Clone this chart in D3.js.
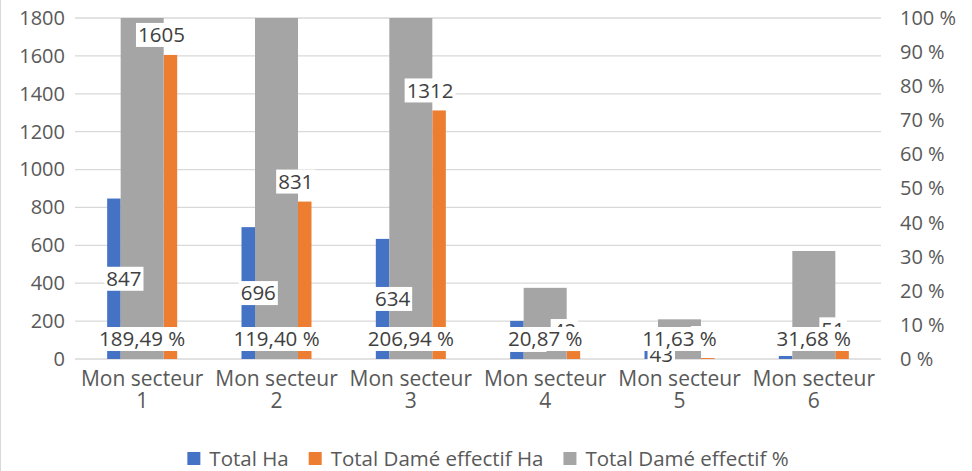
<!DOCTYPE html>
<html>
<head>
<meta charset="utf-8">
<script src="https://cdn.jsdelivr.net/npm/d3@7"></script>
<style>
  html, body { margin: 0; padding: 0; background: #fff; }
  svg { display: block; font-family: "Open Sans", sans-serif; }
</style>
</head>
<body>
<svg id="chart" width="972" height="471"></svg>
<script>
// données
const categories = ['Mon secteur 1', 'Mon secteur 2', 'Mon secteur 3', 'Mon secteur 4', 'Mon secteur 5', 'Mon secteur 6'];
const totalHa = [847, 696, 634, 201, 43, 16];
const dameHa = [1605, 831, 1312, 42, 5, 51];
const damePct = [1.8949, 1.1940, 2.0694, 0.2087, 0.1163, 0.3168];
const showHaLabel = [true, true, true, true, true, false];
const leftTicks = [0, 200, 400, 600, 800, 1000, 1200, 1400, 1600, 1800];
const rightTicks = [0, 0.1, 0.2, 0.3, 0.4, 0.5, 0.6, 0.7, 0.8, 0.9, 1];
const seriesNames = ['Total Ha', 'Total Damé effectif Ha', 'Total Damé effectif %'];

const COLORS = ['#4472C4', '#ED7D31', '#A5A5A5'];
const TEXT = '#595959';
const GRID = '#d9d9d9';
const FONT = 20;

const W = 972, H = 471;
const plot = { left: 75, right: 881, top: 18, bottom: 359 };
const BAR_W = 13.5, PCT_W = 43;

const fr = d3.formatLocale({ decimal: ',', thousands: ' ', grouping: [3], currency: ['', ' €'] });
const fmtPct = v => fr.format('.2f')(v * 100) + ' %';

const svg = d3.select('#chart');

// bordure gauche du cadre
svg.append('line')
  .attr('x1', 0.5).attr('x2', 0.5).attr('y1', 0).attr('y2', H)
  .attr('stroke', GRID);

const x = d3.scaleBand().domain(categories).range([plot.left, plot.right]).padding(0);
const y = d3.scaleLinear().domain([0, 1800]).range([plot.bottom, plot.top]);
const y2 = d3.scaleLinear().domain([0, 1]).range([plot.bottom, plot.top]).clamp(true);
const cx = c => x(c) + x.bandwidth() / 2;

// grille
svg.append('g').selectAll('line').data(leftTicks).join('line')
  .attr('x1', plot.left).attr('x2', plot.right)
  .attr('y1', d => y(d)).attr('y2', d => y(d))
  .attr('stroke', GRID).attr('stroke-width', 1.3);

// axes
const gL = svg.append('g').attr('transform', `translate(${plot.left},0)`)
  .call(d3.axisLeft(y).tickValues(leftTicks).tickSize(0).tickPadding(10).tickFormat(d3.format('d')));
const gR = svg.append('g').attr('transform', `translate(${plot.right},0)`)
  .call(d3.axisRight(y2).tickValues(rightTicks).tickSize(0).tickPadding(19)
    .tickFormat(d => Math.round(d * 100) + ' %'));
[gL, gR].forEach(g => {
  g.select('.domain').remove();
  g.selectAll('text').attr('fill', TEXT).style('font-size', FONT + 'px')
    .style('font-family', '"Open Sans", sans-serif');
});

// barres
const rows = categories.map((c, i) => ({ c, ha: totalHa[i], dame: dameHa[i], pct: damePct[i], showHa: showHaLabel[i] }));

svg.append('g').selectAll('rect').data(rows).join('rect')
  .attr('x', d => cx(d.c) - PCT_W / 2 - BAR_W)
  .attr('y', d => y(d.ha))
  .attr('width', BAR_W)
  .attr('height', d => y(0) - y(d.ha))
  .attr('fill', COLORS[0]);

svg.append('g').selectAll('rect').data(rows).join('rect')
  .attr('x', d => cx(d.c) + PCT_W / 2)
  .attr('y', d => y(d.dame))
  .attr('width', BAR_W)
  .attr('height', d => y(0) - y(d.dame))
  .attr('fill', COLORS[1]);

svg.append('g').selectAll('rect').data(rows).join('rect')
  .attr('x', d => cx(d.c) - PCT_W / 2)
  .attr('y', d => y2(d.pct))
  .attr('width', PCT_W)
  .attr('height', d => y2(0) - y2(d.pct))
  .attr('fill', COLORS[2]);

// étiquettes avec fond blanc
function label(g, tx, ty, txt) {
  const grp = g.append('g');
  const rect = grp.append('rect').attr('fill', '#fff');
  const t = grp.append('text')
    .attr('x', tx).attr('y', ty).attr('dy', '0.35em')
    .attr('text-anchor', 'middle')
    .attr('fill', '#404040')
    .style('font-size', '20.5px')
    .text(txt);
  const w = t.node().getComputedTextLength();
  rect.attr('x', tx - w / 2 - 2).attr('y', ty - 12).attr('width', w + 4).attr('height', 24);
}

const gLab = svg.append('g');
rows.forEach(d => {
  if (d.showHa) label(gLab, cx(d.c) - PCT_W / 2 - BAR_W / 2 + 10, (y(d.ha) + y(0)) / 2, d.ha);
});
rows.forEach(d => {
  label(gLab, cx(d.c) + PCT_W / 2 + BAR_W / 2 - 9, y(d.dame) - 20, d.dame);
});
rows.forEach(d => {
  label(gLab, cx(d.c), y2(0) - 20, fmtPct(d.pct));
});

// libellés des catégories
const gX = svg.append('g');
categories.forEach(c => {
  const k = c.lastIndexOf(' ');
  const t = gX.append('text')
    .attr('x', cx(c)).attr('y', 386)
    .attr('text-anchor', 'middle')
    .attr('fill', TEXT)
    .style('font-size', '21px');
  t.append('tspan').attr('x', cx(c)).text(c.slice(0, k));
  t.append('tspan').attr('x', cx(c)).attr('dy', 22).text(c.slice(k + 1));
});

// légende
const gLeg = svg.append('g');
let lx = 0;
seriesNames.forEach((n, i) => {
  const it = gLeg.append('g').attr('transform', `translate(${lx},0)`);
  it.append('rect').attr('x', 0).attr('y', 452).attr('width', 13).attr('height', 13).attr('fill', COLORS[i]);
  const t = it.append('text').attr('x', 22).attr('y', 458.5).attr('dy', '0.35em')
    .attr('fill', TEXT).style('font-size', '20.5px').text(n);
  lx += 22 + t.node().getComputedTextLength() + 20;
});
const legW = lx - 20;
gLeg.attr('transform', `translate(${488 - legW / 2},0)`);
</script>
</body>
</html>
